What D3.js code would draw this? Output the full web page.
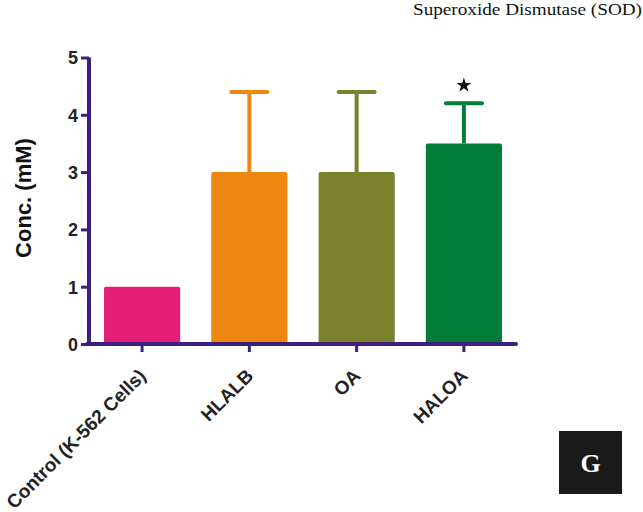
<!DOCTYPE html>
<html><head><meta charset="utf-8">
<script src="https://cdn.jsdelivr.net/npm/d3@7"></script>
<style>body{margin:0;background:#fff}svg{display:block}</style>
</head><body>
<svg id="c" width="643" height="512"></svg>
<script>
const categories = ["Control (K-562 Cells)", "HLALB", "OA", "HALOA"];
const values = [1.0, 3.0, 3.0, 3.5];
const errors = [0, 1.4, 1.4, 0.7];
const colors = ["#E31E74", "#EE8612", "#7A822C", "#007E37"];
const yTicks = [0, 1, 2, 3, 4, 5];
const significant = [false, false, false, true];

const svg = d3.select("#c");
const axisColor = "#3D1F7E";
const x = d3.scaleBand().domain(categories).range([89, 517]).paddingInner(0.29).paddingOuter(0.14);
const y = d3.scaleLinear().domain([0, 5]).range([344, 57.5]);

// bars
svg.selectAll("rect.bar").data(categories).join("rect")
  .attr("x", d => x(d)).attr("width", x.bandwidth())
  .attr("y", (d, i) => y(values[i])).attr("height", (d, i) => y(0) - y(values[i]))
  .attr("rx", 2).attr("fill", (d, i) => colors[i]);

// error bars
const eb = svg.selectAll("g.err").data(categories.filter((d, i) => errors[i] > 0)).join("g");
eb.each(function(d) {
  const i = categories.indexOf(d);
  const cx = x(d) + x.bandwidth() / 2;
  const g = d3.select(this);
  g.append("line").attr("x1", cx).attr("x2", cx).attr("y1", y(values[i])).attr("y2", y(values[i] + errors[i]))
    .attr("stroke", colors[i]).attr("stroke-width", 4);
  g.append("line").attr("x1", cx - 18).attr("x2", cx + 18).attr("y1", y(values[i] + errors[i])).attr("y2", y(values[i] + errors[i]))
    .attr("stroke", colors[i]).attr("stroke-width", 4).attr("stroke-linecap", "round");
});

// significance star
categories.forEach((d, i) => {
  if (!significant[i]) return;
  const cx = x(d) + x.bandwidth() / 2;
  svg.append("path").attr("d", d3.symbol(d3.symbolStar, 70)())
    .attr("transform", `translate(${cx},${y(values[i] + errors[i]) - 18})`).attr("fill", "#111");
});

// y axis
const yAxis = d3.axisLeft(y).tickValues(yTicks).tickSize(8).tickPadding(3).tickFormat(d3.format("d"));
const gy = svg.append("g").attr("transform", "translate(89,0)").call(yAxis);
gy.select(".domain").attr("stroke", axisColor).attr("stroke-width", 4).attr("d", "M0,57.5V346");
gy.selectAll(".tick line").attr("stroke", axisColor).attr("stroke-width", 3);
gy.selectAll(".tick text").attr("font-family", "Liberation Sans, Arial, sans-serif").attr("font-weight", "bold")
  .attr("font-size", 18).attr("fill", "#222").attr("dy", "0.35em");

// x axis
const xAxis = d3.axisBottom(x).tickSize(8).tickPadding(6);
const gx = svg.append("g").attr("transform", "translate(0,344)").call(xAxis);
gx.select(".domain").attr("stroke", axisColor).attr("stroke-width", 4).attr("stroke-linecap", "round").attr("d", "M87,0H516");
gx.selectAll(".tick line").attr("stroke", axisColor).attr("stroke-width", 3);
gx.selectAll(".tick text").attr("font-family", "Liberation Sans, Arial, sans-serif").attr("font-weight", "bold")
  .attr("font-size", 19).attr("fill", "#222")
  .attr("text-anchor", "end").attr("x", 0).attr("y", 0).attr("dy", 0)
  .attr("transform", "translate(5,33) rotate(-45)");

// y label
svg.append("text").attr("transform", "translate(23,198) rotate(-90)").attr("text-anchor", "middle")
  .attr("dy", "0.35em")
  .attr("font-family", "Liberation Sans, Arial, sans-serif").attr("font-weight", "bold").attr("font-size", 22)
  .attr("fill", "#111").text("Conc. (mM)");

// title
svg.append("text").attr("x", 642).attr("y", 15).attr("text-anchor", "end")
  .attr("font-family", "Liberation Serif, Times New Roman, serif").attr("font-size", 17).attr("fill", "#111")
  .attr("textLength", 229).attr("lengthAdjust", "spacingAndGlyphs")
  .text("Superoxide Dismutase (SOD)");

// panel label
svg.append("rect").attr("x", 559).attr("y", 431).attr("width", 63).attr("height", 63).attr("fill", "#1a1a1a");
svg.append("text").attr("x", 590.5).attr("y", 463).attr("text-anchor", "middle").attr("dy", "0.35em")
  .attr("font-family", "Liberation Serif, Times New Roman, serif").attr("font-weight", "bold").attr("font-size", 26)
  .attr("fill", "#fff").text("G");
</script>
</body></html>
